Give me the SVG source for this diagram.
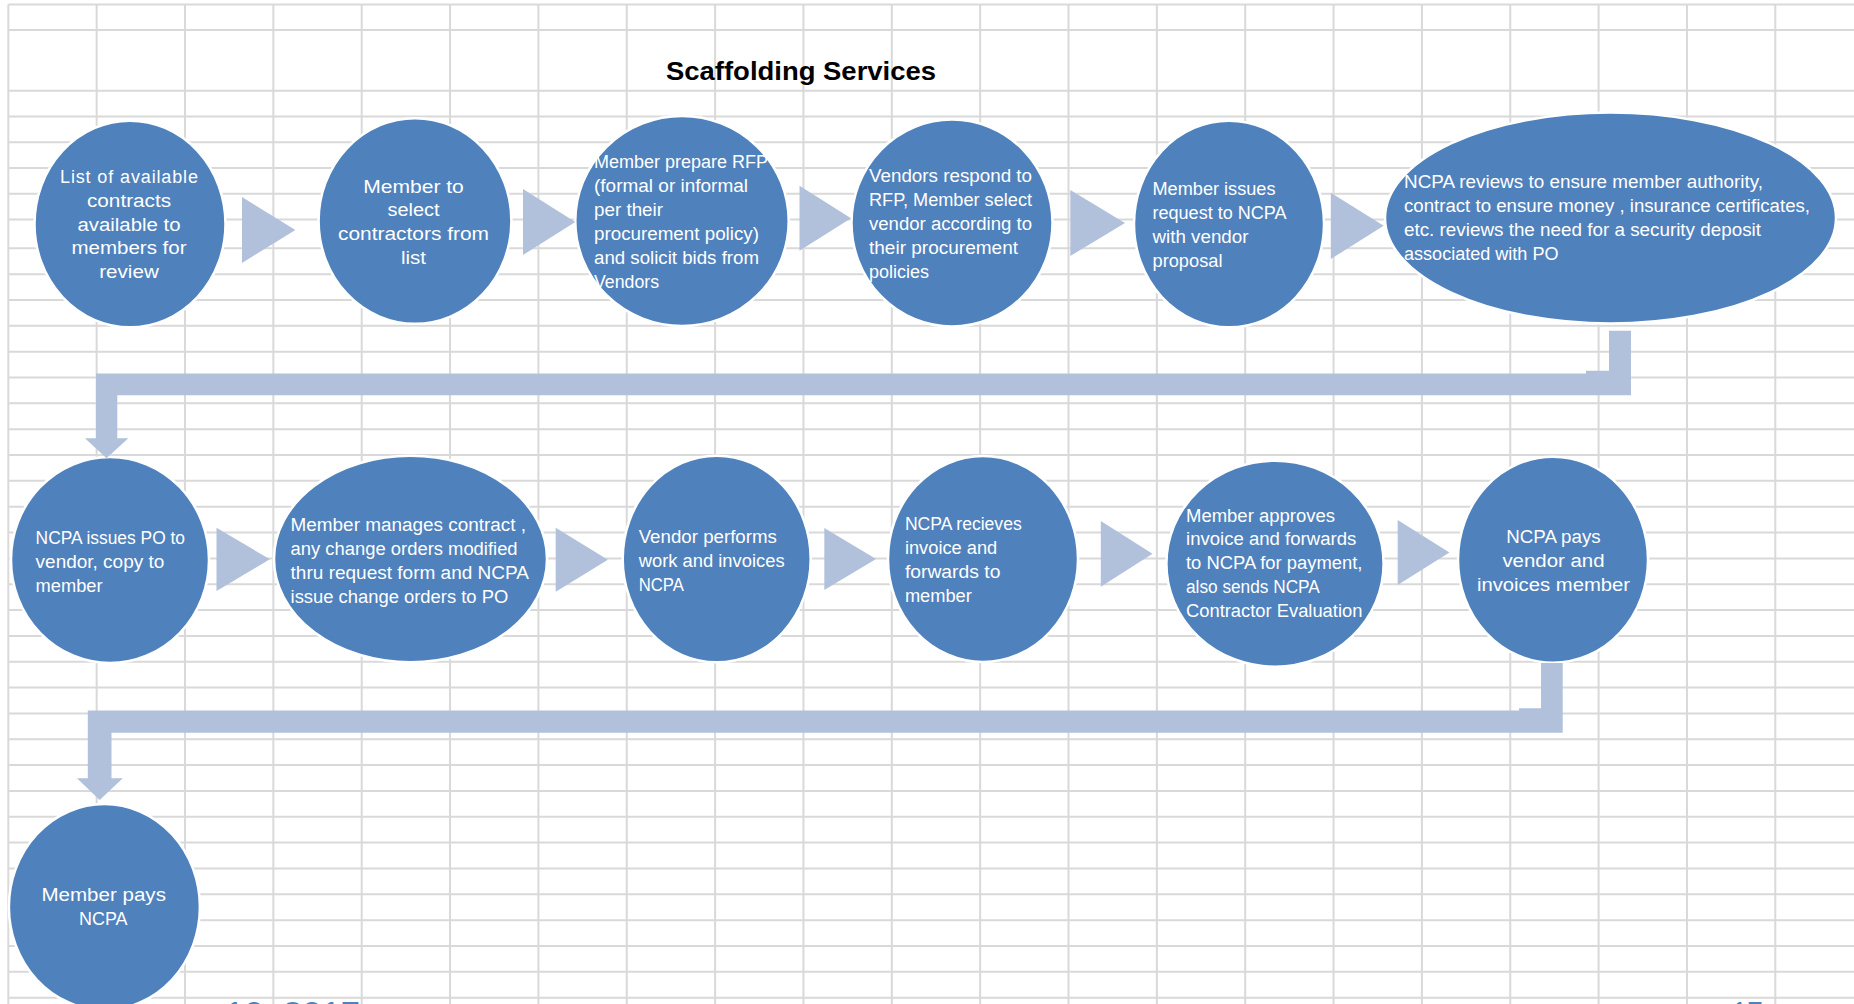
<svg xmlns="http://www.w3.org/2000/svg" width="1854" height="1004" viewBox="0 0 1854 1004">
<style>
.g line{stroke:#d9d9d9;stroke-width:2}
.node ellipse{fill:#4f81bd;stroke:#ffffff;stroke-width:2.5}
.lbl{font-family:"Liberation Sans",Arial,sans-serif;font-size:18px;fill:#ffffff}
.mid{text-anchor:middle}
.arr{fill:#b1c1dc}
.title{font-family:"Liberation Sans",Arial,sans-serif;font-size:26px;font-weight:bold;fill:#000000}
.foot{font-family:"Liberation Sans",Arial,sans-serif;font-size:32px;fill:#4f81bd}
</style>
<rect x="0" y="0" width="1854" height="1004" fill="#ffffff"/>
<g class="g" id="grid">
<line x1="8.3" y1="4.5" x2="8.3" y2="1004"/>
<line x1="96.65" y1="4.5" x2="96.65" y2="1004"/>
<line x1="185" y1="4.5" x2="185" y2="1004"/>
<line x1="273.35" y1="4.5" x2="273.35" y2="1004"/>
<line x1="361.7" y1="4.5" x2="361.7" y2="1004"/>
<line x1="450.05" y1="4.5" x2="450.05" y2="1004"/>
<line x1="538.4" y1="4.5" x2="538.4" y2="1004"/>
<line x1="626.75" y1="4.5" x2="626.75" y2="1004"/>
<line x1="715.1" y1="4.5" x2="715.1" y2="1004"/>
<line x1="803.45" y1="4.5" x2="803.45" y2="1004"/>
<line x1="891.8" y1="4.5" x2="891.8" y2="1004"/>
<line x1="980.15" y1="4.5" x2="980.15" y2="1004"/>
<line x1="1068.5" y1="4.5" x2="1068.5" y2="1004"/>
<line x1="1156.85" y1="4.5" x2="1156.85" y2="1004"/>
<line x1="1245.2" y1="4.5" x2="1245.2" y2="1004"/>
<line x1="1333.55" y1="4.5" x2="1333.55" y2="1004"/>
<line x1="1421.9" y1="4.5" x2="1421.9" y2="1004"/>
<line x1="1510.25" y1="4.5" x2="1510.25" y2="1004"/>
<line x1="1598.6" y1="4.5" x2="1598.6" y2="1004"/>
<line x1="1686.95" y1="4.5" x2="1686.95" y2="1004"/>
<line x1="1775.3" y1="4.5" x2="1775.3" y2="1004"/>
<line x1="8.3" y1="4.5" x2="1854" y2="4.5"/>
<line x1="8.3" y1="30" x2="1854" y2="30"/>
<line x1="8.3" y1="90.7" x2="1854" y2="90.7"/>
<line x1="8.3" y1="116.45" x2="1854" y2="116.45"/>
<line x1="8.3" y1="142.2" x2="1854" y2="142.2"/>
<line x1="8.3" y1="167.95" x2="1854" y2="167.95"/>
<line x1="8.3" y1="193.7" x2="1854" y2="193.7"/>
<line x1="8.3" y1="219.45" x2="1854" y2="219.45"/>
<line x1="8.3" y1="248.3" x2="1854" y2="248.3"/>
<line x1="8.3" y1="274.14" x2="1854" y2="274.14"/>
<line x1="8.3" y1="299.98" x2="1854" y2="299.98"/>
<line x1="8.3" y1="325.82" x2="1854" y2="325.82"/>
<line x1="8.3" y1="351.66" x2="1854" y2="351.66"/>
<line x1="8.3" y1="377.5" x2="1854" y2="377.5"/>
<line x1="8.3" y1="403.34" x2="1854" y2="403.34"/>
<line x1="8.3" y1="429.18" x2="1854" y2="429.18"/>
<line x1="8.3" y1="455.02" x2="1854" y2="455.02"/>
<line x1="8.3" y1="480.86" x2="1854" y2="480.86"/>
<line x1="8.3" y1="506.7" x2="1854" y2="506.7"/>
<line x1="8.3" y1="532.54" x2="1854" y2="532.54"/>
<line x1="8.3" y1="558.38" x2="1854" y2="558.38"/>
<line x1="8.3" y1="584.22" x2="1854" y2="584.22"/>
<line x1="8.3" y1="610.06" x2="1854" y2="610.06"/>
<line x1="8.3" y1="635.9" x2="1854" y2="635.9"/>
<line x1="8.3" y1="661.74" x2="1854" y2="661.74"/>
<line x1="8.3" y1="687.58" x2="1854" y2="687.58"/>
<line x1="8.3" y1="713.42" x2="1854" y2="713.42"/>
<line x1="8.3" y1="739.26" x2="1854" y2="739.26"/>
<line x1="8.3" y1="765.1" x2="1854" y2="765.1"/>
<line x1="8.3" y1="790.94" x2="1854" y2="790.94"/>
<line x1="8.3" y1="816.78" x2="1854" y2="816.78"/>
<line x1="8.3" y1="842.62" x2="1854" y2="842.62"/>
<line x1="8.3" y1="868.46" x2="1854" y2="868.46"/>
<line x1="8.3" y1="894.3" x2="1854" y2="894.3"/>
<line x1="8.3" y1="920.14" x2="1854" y2="920.14"/>
<line x1="8.3" y1="945.98" x2="1854" y2="945.98"/>
<line x1="8.3" y1="971.82" x2="1854" y2="971.82"/>
<line x1="8.3" y1="997.66" x2="1854" y2="997.66"/>
</g>
<text class="title" x="666" y="79.5" textLength="270" lengthAdjust="spacingAndGlyphs">Scaffolding Services</text>
<g id="nodes">
<g class="node" id="n1">
<ellipse cx="130" cy="224" rx="95.5" ry="103.3"/>
<text class="lbl mid" lengthAdjust="spacingAndGlyphs"><tspan x="129" y="183.3" textLength="138">List of available</tspan></text>
<text class="lbl mid" x="129" y="206.9" textLength="84" lengthAdjust="spacingAndGlyphs">contracts</text>
<text class="lbl mid" x="129" y="230.5" textLength="103" lengthAdjust="spacingAndGlyphs">available to</text>
<text class="lbl mid" x="129" y="254.1" textLength="115" lengthAdjust="spacingAndGlyphs">members for</text>
<text class="lbl mid" x="129" y="277.7" textLength="59.5" lengthAdjust="spacingAndGlyphs">review</text>
</g>
<g class="node" id="n2">
<ellipse cx="415" cy="221" rx="96.4" ry="102.8"/>
<text class="lbl mid" x="413.5" y="192.7" textLength="100.7" lengthAdjust="spacingAndGlyphs">Member to</text>
<text class="lbl mid" x="413.5" y="216.4" textLength="52" lengthAdjust="spacingAndGlyphs">select</text>
<text class="lbl mid" x="413.5" y="240.1" textLength="151" lengthAdjust="spacingAndGlyphs">contractors from</text>
<text class="lbl mid" x="413.5" y="263.8" textLength="25" lengthAdjust="spacingAndGlyphs">list</text>
</g>
<g class="node" id="n3">
<ellipse cx="682" cy="221" rx="106.7" ry="105"/>
<text class="lbl" x="594" y="168" textLength="174" lengthAdjust="spacingAndGlyphs">Member prepare RFP</text>
<text class="lbl" x="594" y="192" textLength="154" lengthAdjust="spacingAndGlyphs">(formal or informal</text>
<text class="lbl" x="594" y="216" textLength="69" lengthAdjust="spacingAndGlyphs">per their</text>
<text class="lbl" x="594" y="240" textLength="165" lengthAdjust="spacingAndGlyphs">procurement policy)</text>
<text class="lbl" x="594" y="264" textLength="165" lengthAdjust="spacingAndGlyphs">and solicit bids from</text>
<text class="lbl" x="594" y="288" textLength="65" lengthAdjust="spacingAndGlyphs">Vendors</text>
</g>
<g class="node" id="n4">
<ellipse cx="952" cy="223" rx="100.5" ry="103.5"/>
<text class="lbl" x="869" y="182" textLength="163" lengthAdjust="spacingAndGlyphs">Vendors respond to</text>
<text class="lbl" x="869" y="206" textLength="163" lengthAdjust="spacingAndGlyphs">RFP, Member select</text>
<text class="lbl" x="869" y="230" textLength="163" lengthAdjust="spacingAndGlyphs">vendor according to</text>
<text class="lbl" x="869" y="254" textLength="149" lengthAdjust="spacingAndGlyphs">their procurement</text>
<text class="lbl" x="869" y="278" textLength="60" lengthAdjust="spacingAndGlyphs">policies</text>
</g>
<g class="node" id="n5">
<ellipse cx="1229" cy="224" rx="95" ry="103.3"/>
<text class="lbl" x="1152.5" y="194.8" textLength="123" lengthAdjust="spacingAndGlyphs">Member issues</text>
<text class="lbl" x="1152.5" y="218.8" textLength="134" lengthAdjust="spacingAndGlyphs">request to NCPA</text>
<text class="lbl" x="1152.5" y="242.8" textLength="96" lengthAdjust="spacingAndGlyphs">with vendor</text>
<text class="lbl" x="1152.5" y="266.8" textLength="70" lengthAdjust="spacingAndGlyphs">proposal</text>
</g>
<g class="node" id="n6">
<ellipse cx="1610.5" cy="218" rx="225.5" ry="105.5"/>
<text class="lbl" x="1404" y="188" textLength="359" lengthAdjust="spacingAndGlyphs">NCPA reviews to ensure member authority,</text>
<text class="lbl" x="1404" y="212" textLength="406" lengthAdjust="spacingAndGlyphs">contract to ensure money , insurance certificates,</text>
<text class="lbl" x="1404" y="236" textLength="357" lengthAdjust="spacingAndGlyphs">etc. reviews the need for a security deposit</text>
<text class="lbl" x="1404" y="260" textLength="154.5" lengthAdjust="spacingAndGlyphs">associated with PO</text>
</g>
<g class="node" id="n7">
<ellipse cx="110" cy="560" rx="99" ry="103"/>
<text class="lbl" x="35.6" y="544" textLength="149.4" lengthAdjust="spacingAndGlyphs">NCPA issues PO to</text>
<text class="lbl" x="35.6" y="568" textLength="128.7" lengthAdjust="spacingAndGlyphs">vendor, copy to</text>
<text class="lbl" x="35.6" y="592" textLength="67" lengthAdjust="spacingAndGlyphs">member</text>
</g>
<g class="node" id="n8">
<ellipse cx="410.5" cy="559" rx="136.5" ry="103.3"/>
<text class="lbl" x="290.6" y="531" textLength="235.4" lengthAdjust="spacingAndGlyphs">Member manages contract ,</text>
<text class="lbl" x="290.6" y="555" textLength="227" lengthAdjust="spacingAndGlyphs">any change orders modified</text>
<text class="lbl" x="290.6" y="579" textLength="238.4" lengthAdjust="spacingAndGlyphs">thru request form and NCPA</text>
<text class="lbl" x="290.6" y="603" textLength="217.6" lengthAdjust="spacingAndGlyphs">issue change orders to PO</text>
</g>
<g class="node" id="n9">
<ellipse cx="716.7" cy="559" rx="94" ry="103.3"/>
<text class="lbl" x="638.7" y="542.5" textLength="138.2" lengthAdjust="spacingAndGlyphs">Vendor performs</text>
<text class="lbl" x="638.7" y="566.5" textLength="145.9" lengthAdjust="spacingAndGlyphs">work and invoices</text>
<text class="lbl" x="638.7" y="590.5" textLength="45.1" lengthAdjust="spacingAndGlyphs">NCPA</text>
</g>
<g class="node" id="n10">
<ellipse cx="983" cy="559" rx="95" ry="103"/>
<text class="lbl" x="904.9" y="529.8" textLength="116.8" lengthAdjust="spacingAndGlyphs">NCPA recieves</text>
<text class="lbl" x="904.9" y="553.8" textLength="92.4" lengthAdjust="spacingAndGlyphs">invoice and</text>
<text class="lbl" x="904.9" y="577.8" textLength="95.5" lengthAdjust="spacingAndGlyphs">forwards to</text>
<text class="lbl" x="904.9" y="601.8" textLength="66.9" lengthAdjust="spacingAndGlyphs">member</text>
</g>
<g class="node" id="n11">
<ellipse cx="1275" cy="563.7" rx="108.6" ry="103"/>
<text class="lbl" x="1186" y="521.5" textLength="149" lengthAdjust="spacingAndGlyphs">Member approves</text>
<text class="lbl" x="1186" y="545.4" textLength="170.3" lengthAdjust="spacingAndGlyphs">invoice and forwards</text>
<text class="lbl" x="1186" y="569.3" textLength="176.4" lengthAdjust="spacingAndGlyphs">to NCPA for payment,</text>
<text class="lbl" x="1186" y="593.2" textLength="133.8" lengthAdjust="spacingAndGlyphs">also sends NCPA</text>
<text class="lbl" x="1186" y="617.1" textLength="176.4" lengthAdjust="spacingAndGlyphs">Contractor Evaluation</text>
</g>
<g class="node" id="n12">
<ellipse cx="1553" cy="559.7" rx="95" ry="103"/>
<text class="lbl mid" x="1553.5" y="543" textLength="94.3" lengthAdjust="spacingAndGlyphs">NCPA pays</text>
<text class="lbl mid" x="1553.5" y="567" textLength="102.2" lengthAdjust="spacingAndGlyphs">vendor and</text>
<text class="lbl mid" x="1553.5" y="591" textLength="153.2" lengthAdjust="spacingAndGlyphs">invoices member</text>
</g>
<g class="node" id="n13">
<ellipse cx="104.4" cy="907" rx="95.5" ry="103"/>
<text class="lbl mid" x="103.7" y="901" textLength="124.5" lengthAdjust="spacingAndGlyphs">Member pays</text>
<text class="lbl mid" x="103.3" y="925" textLength="48.5" lengthAdjust="spacingAndGlyphs">NCPA</text>
</g>
</g>
<g id="connectors" class="arr">
<polygon points="242,197 242,263 295.4,230"/>
<polygon points="523,189 523,255 575.3,222"/>
<polygon points="799.5,185.7 799.5,250.7 851,218.2"/>
<polygon points="1070.3,190 1070.3,256 1125,223"/>
<polygon points="1330.8,192.7 1330.8,259 1383.7,225.8"/>
<polygon points="216.5,527.7 216.5,591 269.9,559.3"/>
<polygon points="555.7,527.7 555.7,591.7 607.9,559.7"/>
<polygon points="824.3,528 824.3,590 876,559"/>
<polygon points="1100.8,521 1100.8,586.7 1152.5,553.8"/>
<polygon points="1397.7,520 1397.7,585 1449.4,552.5"/>
<polygon points="1631,330.7 1631,395.3 117.3,395.3 117.3,438.3 128.3,438.3 106.5,458.3 85,438.3 96,438.3 96,373.6 1586,373.6 1586,370.7 1609,370.7 1609,330.7"/>
<polygon points="1562.7,663 1562.7,732.7 111.5,732.7 111.5,778.3 122.8,778.3 99.7,800 77,778.3 87.8,778.3 87.8,710.5 1519,710.5 1519,708.3 1541,708.3 1541,663"/>
</g>
<text class="foot" x="225" y="1024" textLength="135" lengthAdjust="spacingAndGlyphs">10, 2017</text>
<text class="foot" x="1731.7" y="1024" textLength="31" lengthAdjust="spacingAndGlyphs">17</text>
</svg>
